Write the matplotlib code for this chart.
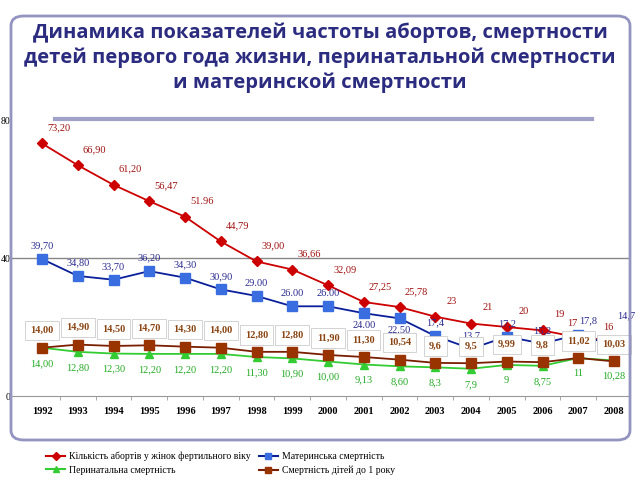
import matplotlib.pyplot as plt
import numpy as np
from matplotlib.patches import FancyBboxPatch
from matplotlib.lines import Line2D

# ------------------------- Data -------------------------
years = ["1992", "1993", "1994", "1995", "1996", "1997", "1998", "1999", "2000",
         "2001", "2002", "2003", "2004", "2005", "2006", "2007", "2008"]

abortions = [73.20, 66.90, 61.20, 56.47, 51.96, 44.79, 39.00, 36.66, 32.09,
             27.25, 25.78, 23, 21, 20, 19, 17, 16]
abortions_lbl = ["73,20", "66,90", "61,20", "56,47", "51.96", "44,79", "39,00", "36,66", "32,09",
                 "27,25", "25,78", "23", "21", "20", "19", "17", "16"]

maternal = [39.70, 34.80, 33.70, 36.20, 34.30, 30.90, 29.00, 26.00, 26.00,
            24.00, 22.50, 17.4, 13.7, 17.2, 15.2, 17.8, 14.7]
maternal_lbl = ["39,70", "34,80", "33,70", "36,20", "34,30", "30,90", "29.00", "26.00", "26.00",
                "24.00", "22.50", "17,4", "13,7", "17,2", "15,2", "17,8", "14,7"]

perinatal = [14.00, 12.80, 12.30, 12.20, 12.20, 12.20, 11.30, 10.90, 10.00,
             9.13, 8.60, 8.3, 7.9, 9, 8.75, 11, 10.28]
perinatal_lbl = ["14,00", "12,80", "12,30", "12,20", "12,20", "12,20", "11,30", "10,90", "10,00",
                 "9,13", "8,60", "8,3", "7,9", "9", "8,75", "11", "10,28"]

infant = [14.00, 14.90, 14.50, 14.70, 14.30, 14.00, 12.80, 12.80, 11.90,
          11.30, 10.54, 9.6, 9.5, 9.99, 9.8, 11.02, 10.03]
infant_lbl = ["14,00", "14,90", "14,50", "14,70", "14,30", "14,00", "12,80", "12,80", "11,90",
              "11,30", "10,54", "9,6", "9,5", "9,99", "9,8", "11,02", "10,03"]

legend_names = ["Кількість абортів у жінок фертильного віку", "Материнська смертність",
                "Перинатальна смертність", "Смертність дітей до 1 року"]

title = ("Динамика показателей частоты абортов, смертности\n"
         "детей первого года жизни, перинатальной смертности\n"
         "и материнской смертности")

# ------------------------- Figure -------------------------
W, H = 640, 480
fig = plt.figure(figsize=(6.4, 4.8), dpi=100)

def fx(px):
    return px / W

def fy(py):
    return 1 - py / H

# rounded frame
frame = FancyBboxPatch((fx(11), fy(440)), fx(630) - fx(11), fy(16) - fy(440),
                       boxstyle="round,pad=0,rounding_size=0.02",
                       transform=fig.transFigure, facecolor="none",
                       edgecolor="#9494c0", linewidth=2, zorder=0)
fig.patches.append(frame)

fig.text(0.5, fy(58), title, ha="center", va="center", fontsize=14.5,
         fontweight="bold", color="#2b2b80", family="Open Sans", linespacing=1.28)

# decorative bar under title
fig.add_artist(Line2D([fx(55), fx(592)], [fy(119), fy(119)], transform=fig.transFigure,
                      color="#a0a0c8", linewidth=3))

ax = fig.add_axes([fx(12), fy(396), fx(630) - fx(12), fy(120) - fy(396)])
x = np.arange(len(years))
ax.set_xlim(-30 / 35.75, 16 + 16 / 35.75)
ax.set_ylim(0, 80)

for s in ["top", "right", "left"]:
    ax.spines[s].set_visible(False)
ax.spines["bottom"].set_color("#999999")
ax.axhline(40, color="#888888", linewidth=1, zorder=1)

ax.set_yticks([0, 40, 80])
ax.set_yticklabels(["0", "40", "80"], family="Liberation Serif", fontsize=7)
ax.tick_params(axis="y", length=0, pad=1)
ax.set_xticks(x)
ax.set_xticklabels(years, family="Liberation Serif", fontsize=7.5, fontweight="bold")
ax.tick_params(axis="x", length=0, pad=8)
ax.set_xticks(x[:-1] + 0.5, minor=True)
ax.tick_params(axis="x", which="minor", length=3, color="#999999")

red, blue_l, blue_m = "#cc0000", "#0a1f9a", "#3a6ee0"
green, brown_l, brown_m = "#33cc33", "#7a1e00", "#993300"

ax.plot(x, abortions, color=red, marker="D", markersize=5, linewidth=1.3, zorder=4)
ax.plot(x, maternal, color=blue_l, marker="s", markersize=7, markerfacecolor=blue_m,
        markeredgecolor=blue_m, linewidth=1.3, zorder=4)
ax.plot(x, perinatal, color=green, marker="^", markersize=6, linewidth=1.3, zorder=3)
ax.plot(x, infant, color=brown_l, marker="s", markersize=7, markerfacecolor=brown_m,
        markeredgecolor=brown_m, linewidth=1.3, zorder=3)

serif = "Liberation Serif"
for i in x:
    roff = (12, 8)
    if i == 15:
        roff = (-4, 7)
    elif i == 16:
        roff = (-4, 6)
    ax.annotate(abortions_lbl[i], (i, abortions[i]), xytext=roff, textcoords="offset points",
                ha="center", va="bottom", fontsize=7.5, color="#a01010", family=serif)
    off = (0, 6) if i not in (9, 10) else (0, -12)
    if i == 15:
        off = (7, 7)
    elif i == 16:
        off = (9, 18)
    ax.annotate(maternal_lbl[i], (i, maternal[i]), xytext=off, textcoords="offset points",
                ha="center", va="bottom", fontsize=7.5, color="#2a2a90", family=serif, zorder=5)
    ax.annotate(perinatal_lbl[i], (i, perinatal[i]), xytext=(0, -8), textcoords="offset points",
                ha="center", va="top", fontsize=7.5, color="#22aa22", family=serif)
    ax.annotate(infant_lbl[i], (i, infant[i]), xytext=(0, 9), textcoords="offset points",
                ha="center", va="bottom", fontsize=7.5, color="#8b4513", family=serif,
                fontweight="bold", zorder=6,
                bbox=dict(boxstyle="square,pad=0.5", facecolor="white", edgecolor="#cccccc",
                          linewidth=0.6))

handles = [
    Line2D([], [], color=red, marker="D", markersize=4),
    Line2D([], [], color=green, marker="^", markersize=5),
    Line2D([], [], color=blue_l, marker="s", markersize=5, markerfacecolor=blue_m, markeredgecolor=blue_m),
    Line2D([], [], color=brown_l, marker="s", markersize=5, markerfacecolor=brown_m, markeredgecolor=brown_m),
]
labels = [legend_names[0], legend_names[2], legend_names[1], legend_names[3]]
fig.legend(handles, labels, ncol=2, loc="upper left", bbox_to_anchor=(fx(38), fy(444)),
           frameon=False, prop={"family": serif, "size": 7}, handlelength=2,
           columnspacing=0.8, labelspacing=0.45, handletextpad=0.4, borderpad=0.3)

fig.savefig("out.png", dpi=100)
